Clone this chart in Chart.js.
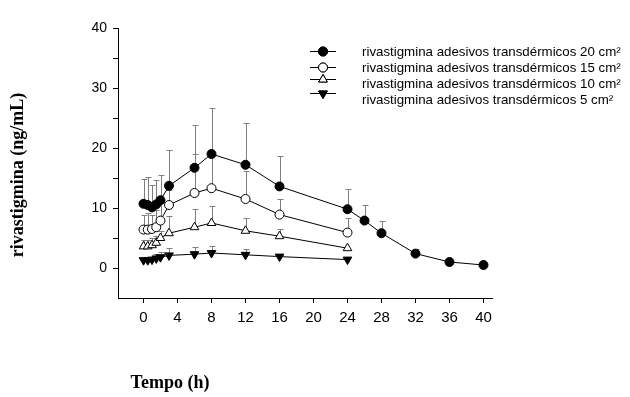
<!DOCTYPE html>
<html lang="pt">
<head>
    <meta charset="UTF-8">
    <title>Rivastigmina - adesivos transdérmicos</title>
    <script src="https://cdn.jsdelivr.net/npm/chart.js"></script>
    <style>
        body { margin: 0; background: #fff; }
        #grafico { display: block; }
    </style>
</head>
<body>
    <canvas id="grafico" width="630" height="397"></canvas>

    <script>
        // Tempos de colheita (h)
        const tempos = [0, 0.5, 1, 1.5, 2, 3, 6, 8, 12, 16, 24];
        const tempos20 = [0, 0.5, 1, 1.5, 2, 3, 6, 8, 12, 16, 24, 26, 28, 32, 36, 40];

        // Médias (ng/mL)
        const media20 = [10.7, 10.5, 10.1, 10.6, 11.3, 13.7, 16.7, 19.0, 17.2, 13.6, 9.8, 7.9, 5.8, 2.4, 1.0, 0.5];
        const media15 = [6.4, 6.4, 6.5, 6.8, 7.9, 10.5, 12.5, 13.3, 11.5, 8.9, 5.9];
        const media10 = [3.6, 3.6, 3.8, 4.2, 5.0, 5.8, 6.8, 7.5, 6.2, 5.3, 3.3];
        const media5 = [1.3, 1.3, 1.4, 1.6, 1.8, 2.1, 2.3, 2.5, 2.2, 1.9, 1.4];

        // Desvios padrão (só a barra superior é desenhada)
        const dp20 = [4.1, 4.6, 3.8, 4.0, 4.2, 6.0, 7.2, 7.7, 7.0, 5.0, 3.4, 2.6, 2.1, 0.8, 0, 0];
        const dp15 = [2.5, 2.7, 2.3, 2.8, 3.1, 2.5, 6.5, 5.5, 4.7, 2.6, 2.4];
        const dp10 = [1.0, 1.0, 1.2, 1.2, 1.2, 2.9, 3.0, 2.9, 2.1, 1.2, 0];
        const dp5 = [0.3, 0.3, 0.4, 0.7, 0.8, 1.2, 1.2, 1.1, 0.9, 0.3, 0];

        const legendas = [
            'rivastigmina adesivos transdérmicos 20 cm²',
            'rivastigmina adesivos transdérmicos 15 cm²',
            'rivastigmina adesivos transdérmicos 10 cm²',
            'rivastigmina adesivos transdérmicos 5 cm²'
        ];

        // Eixos
        const ticksX = [0, 4, 8, 12, 16, 20, 24, 28, 32, 36, 40];
        const ticksY = [0, 5, 10, 15, 20, 25, 30, 35, 40];

        function pontos(t, m) {
            return t.map((x, i) => ({ x: x, y: m[i] }));
        }

        const series = [
            { label: legendas[0], t: tempos20, m: media20, dp: dp20, estilo: 'circle', fundo: '#000', raio: 4.5, rot: 0 },
            { label: legendas[1], t: tempos, m: media15, dp: dp15, estilo: 'circle', fundo: '#fff', raio: 4.5, rot: 0 },
            { label: legendas[2], t: tempos, m: media10, dp: dp10, estilo: 'triangle', fundo: '#fff', raio: 5, rot: 0 },
            { label: legendas[3], t: tempos, m: media5, dp: dp5, estilo: 'triangle', fundo: '#000', raio: 5, rot: 180 }
        ];

        // Barras de erro (para cima) desenhadas por trás dos marcadores
        const barrasErro = {
            id: 'barrasErro',
            beforeDatasetsDraw(chart) {
                const ctx = chart.ctx;
                const sx = chart.scales.x, sy = chart.scales.y;
                ctx.save();
                ctx.strokeStyle = '#7f7f7f';
                ctx.lineWidth = 1;
                series.forEach(s => {
                    s.t.forEach((t, i) => {
                        if (!s.dp[i]) return;
                        const x = Math.round(sx.getPixelForValue(t)) + 0.5;
                        const y0 = sy.getPixelForValue(s.m[i]);
                        const y1 = Math.round(sy.getPixelForValue(s.m[i] + s.dp[i])) + 0.5;
                        ctx.beginPath();
                        ctx.moveTo(x, y0);
                        ctx.lineTo(x, y1);
                        ctx.moveTo(x - 3, y1);
                        ctx.lineTo(x + 3, y1);
                        ctx.stroke();
                    });
                });
                ctx.restore();
            }
        };

        // Títulos dos eixos e legenda
        const textos = {
            id: 'textos',
            afterDraw(chart) {
                const ctx = chart.ctx;
                ctx.save();
                ctx.fillStyle = '#000';
                ctx.font = 'bold 18px "Liberation Serif", "Times New Roman", serif';
                ctx.textAlign = 'center';
                ctx.textBaseline = 'middle';
                ctx.fillText('Tempo (h)', 170, 383);
                ctx.translate(18, 175);
                ctx.rotate(-Math.PI / 2);
                ctx.fillText('rivastigmina (ng/mL)', 0, 0);
                ctx.restore();

                // legenda
                const linhas = [51, 67, 79, 93];
                const linhasTexto = [52, 68, 84, 100];
                ctx.save();
                ctx.font = '13.3px "Liberation Sans", Arial, sans-serif';
                ctx.textBaseline = 'middle';
                ctx.textAlign = 'left';
                series.forEach((s, i) => {
                    const y = linhas[i];
                    ctx.strokeStyle = '#000';
                    ctx.lineWidth = 1;
                    ctx.beginPath();
                    ctx.moveTo(310, y + 0.5);
                    ctx.lineTo(336, y + 0.5);
                    ctx.stroke();
                    ctx.fillStyle = s.fundo;
                    Chart.helpers.drawPoint(ctx, {
                        pointStyle: s.estilo, radius: s.raio, rotation: s.rot, borderWidth: 1
                    }, 323, y + 0.5);
                    ctx.fill();
                    ctx.stroke();
                    ctx.fillStyle = '#000';
                    ctx.fillText(s.label, 362, linhasTexto[i]);
                });
                ctx.restore();
            }
        };

        const fonteY = { family: '"Liberation Sans", Arial, sans-serif', size: 14 };
        const fonteX = { family: '"Liberation Sans", Arial, sans-serif', size: 15 };

        new Chart(document.getElementById('grafico'), {
            type: 'line',
            data: {
                datasets: series.map(s => ({
                    label: s.label,
                    data: pontos(s.t, s.m),
                    borderColor: '#000',
                    borderWidth: 1,
                    backgroundColor: s.fundo,
                    pointStyle: s.estilo,
                    pointRotation: s.rot,
                    pointRadius: s.raio,
                    pointBorderWidth: 1,
                    pointBorderColor: '#000',
                    pointBackgroundColor: s.fundo,
                    tension: 0,
                    fill: false
                }))
            },
            options: {
                responsive: false,
                animation: false,
                layout: { padding: { top: 28, right: 138, left: 0, bottom: 0 } },
                plugins: {
                    legend: { display: false },
                    tooltip: { enabled: false }
                },
                scales: {
                    x: {
                        type: 'linear',
                        min: -3,
                        max: 41,
                        afterBuildTicks: s => { s.ticks = ticksX.map(v => ({ value: v })); },
                        afterFit: s => { s.height = 99; },
                        ticks: { color: '#000', font: fonteX, padding: 6, maxRotation: 0 },
                        grid: { drawOnChartArea: false, drawTicks: true, tickLength: 5, color: '#000' },
                        border: { color: '#000', width: 1 }
                    },
                    y: {
                        min: -5,
                        max: 40,
                        afterBuildTicks: s => { s.ticks = ticksY.map(v => ({ value: v })); },
                        afterFit: s => { s.width = 118; },
                        ticks: {
                            color: '#000', font: fonteY, padding: 6,
                            callback: v => (v % 10 === 0 ? String(v) : '')
                        },
                        grid: { drawOnChartArea: false, drawTicks: true, tickLength: 5, color: '#000' },
                        border: { color: '#000', width: 1 }
                    }
                }
            },
            plugins: [barrasErro, textos]
        });
    </script>
</body>
</html>
